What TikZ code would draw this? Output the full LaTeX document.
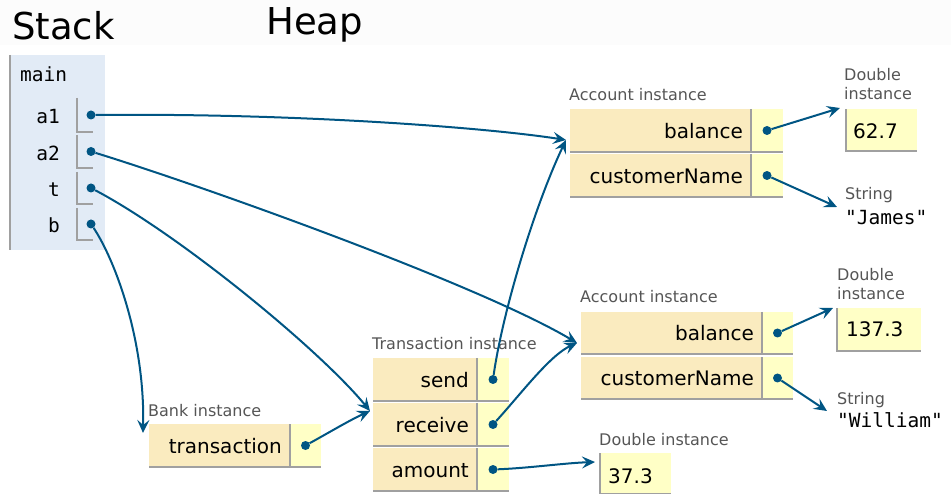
\documentclass[tikz,border=0pt]{standalone}
\usepackage{fontspec}
\setmainfont{DejaVu Sans}
\setmonofont{DejaVu Sans Mono}
\usetikzlibrary{arrows.meta}
\definecolor{keybg}{HTML}{FAEBBF}
\definecolor{valbg}{HTML}{FFFFC6}
\definecolor{stackbg}{HTML}{E2EBF6}
\definecolor{bordergray}{HTML}{A0A0A0}
\definecolor{link}{HTML}{005583}
\definecolor{lblgray}{HTML}{555555}
\definecolor{headbg}{HTML}{FCFCFC}
\tikzset{
  border/.style={draw=bordergray, line width=1.5pt},
  dot/.style={circle, fill=link, inner sep=0pt, minimum size=9pt},
  fieldtxt/.style={inner sep=0pt, anchor=base east, font=\fontsize{20}{24}\selectfont},
  numtxt/.style={inner sep=0pt, anchor=base west, font=\fontsize{20}{24}\selectfont},
  monotxt/.style={inner sep=0pt, font=\fontsize{19.5}{24}\ttfamily},
  lbl/.style={inner sep=0pt, anchor=base west, text=lblgray, font=\fontsize{16}{19}\selectfont},
  headtxt/.style={inner sep=0pt, anchor=base west, font=\fontsize{37}{44}\selectfont},
  link/.style={draw=link, line width=2pt, -{Stealth[length=13pt,width=12pt,inset=5pt]}},
}
% field row: #1 name, #2 x1, #3 x2, #4 x3, #5 ytop, #6 ybot, #7 text
\newcommand\frow[7]{%
  \fill[keybg] (#2,#5) rectangle (#3,#6);
  \fill[valbg] (#3,#5) rectangle (#4,#6);
  \draw[border] (#2,#6) -- (#4,#6);
  \draw[border] (#3,#5) -- (#3,#6);
  \node[fieldtxt] (#1t) at ({#3-8},{(#5+#6)/2+7.8}) {#7};
  \node[dot] (#1) at ({(#3+#4)/2},{(#5+#6)/2}) {};
}
% stack variable: #1 name, #2 label, #3 ytop, #4 ybot
\newcommand\svar[4]{%
  \draw[border] (77,#3) -- (77,#4) -- (93,#4);
  \node[monotxt, anchor=base east] (#1t) at (60,{(#3+#4)/2+8.8}) {#2};
  \node[dot] (#1) at (91,{(#3+#4)/2}) {};
}
% double box: #1 name, #2 x1, #3 x2, #4 ytop, #5 ybot, #6 value, #7 text x, #8 baseline
\newcommand\dbox[8]{%
  \fill[valbg] (#2,#4) rectangle (#3,#5);
  \draw[border] (#2,#4) -- (#2,#5) -- (#3,#5);
  \node[numtxt] (#1) at (#7,#8) {#6};
}
\begin{document}
\begin{tikzpicture}[x=1pt,y=-1pt]
\useasboundingbox (0,0) rectangle (951,494);
\fill[headbg] (0,0) rectangle (951,45);

% headers
\node[headtxt] (stackhead) at (12,40) {Stack};
\node[headtxt] (heaphead) at (266,35) {Heap};

% stack frame
\fill[stackbg] (10,55) rectangle (105,250);
\draw[border] (10,55) -- (10,250);
\node[monotxt, anchor=base west] (mainlbl) at (20,81.7) {main};
\svar{a1}{a1}{98}{132}
\svar{a2}{a2}{135}{168}
\svar{t}{t}{172}{204}
\svar{b}{b}{208}{240}

% Account instance 1
\node[lbl] (acc1lbl) at (569,101) {Account instance};
\frow{acc1bal}{570}{751}{783}{109}{152}{balance}
\frow{acc1name}{570}{751}{783}{154}{197}{customerName}

% Double instance 1
\node[lbl] (d1lbla) at (844,80.7) {Double};
\node[lbl] (d1lblb) at (844,100) {instance};
\dbox{d1v}{846}{917}{109}{151}{62.7}{853}{138.3}

% String 1
\node[lbl] (s1lbl) at (845,200) {String};
\node[monotxt, anchor=base west] (s1v) at (845,225) {"James"};

% Account instance 2
\node[lbl] (acc2lbl) at (580,302.7) {Account instance};
\frow{acc2bal}{581}{762}{793}{312}{354}{balance}
\frow{acc2name}{581}{762}{793}{357}{399}{customerName}

% Double instance 2
\node[lbl] (d2lbla) at (837,280.7) {Double};
\node[lbl] (d2lblb) at (837,300) {instance};
\dbox{d2v}{837}{921}{308}{351}{137.3}{846}{337}

% String 2
\node[lbl] (s2lbl) at (837,405) {String};
\node[monotxt, anchor=base west] (s2v) at (837,428) {"William"};

% Bank instance
\node[lbl] (banklbl) at (148,416.7) {Bank instance};
\frow{banktr}{149}{290}{321}{424}{467}{transaction}

% Transaction instance
\node[lbl] (trlbl) at (372,350) {Transaction instance};
\frow{trsend}{373}{477}{509}{358}{401}{send}
\frow{trrecv}{373}{477}{509}{403}{446}{receive}
\frow{tramt}{373}{477}{509}{448}{491}{amount}

% Double instance 3
\node[lbl] (d3lbl) at (599,445) {Double instance};
\dbox{d3v}{600}{671}{453}{494}{37.3}{608}{483}

% connector end points
\coordinate (acc1in) at (566,140);
\coordinate (acc2in) at (577,343);
\coordinate (trin) at (370,411);
\coordinate (bankin) at (143,433);
\coordinate (d3in) at (595,462);
\coordinate (d1in) at (840,108);
\coordinate (s1in) at (837,207);
\coordinate (d2in) at (833,308);
\coordinate (s2in) at (827,411);

% connectors
\draw[link] (a1) .. controls (300,113) and (490,128) .. (acc1in);
\draw[link] (trsend) .. controls (503,310) and (535,205) .. (acc1in);
\draw[link] (a2) .. controls (200,185) and (480,285) .. (acc2in);
\draw[link] (trrecv) .. controls (520,395) and (550,355) .. (acc2in);
\draw[link] (t) .. controls (180,235) and (320,350) .. (trin);
\draw[link] (banktr) .. controls (330,432) and (350,420) .. (trin);
\draw[link] (b) .. controls (115,260) and (145,340) .. (bankin);
\draw[link] (tramt) .. controls (530,468) and (565,463) .. (d3in);
\draw[link] (acc1bal) -- (d1in);
\draw[link] (acc1name) -- (s1in);
\draw[link] (acc2bal) -- (d2in);
\draw[link] (acc2name) -- (s2in);
\end{tikzpicture}
\end{document}
